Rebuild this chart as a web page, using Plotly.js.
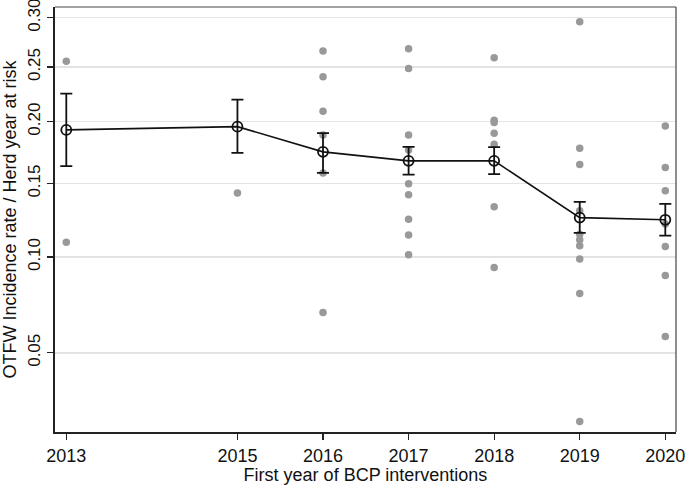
<!DOCTYPE html>
<html>
<head>
<meta charset="utf-8">
<script src="https://cdn.plot.ly/plotly-3.0.1.min.js"></script>
<style>html,body{margin:0;padding:0;background:#fff;}#chart{width:685px;height:485px;}</style>
</head>
<body>
<div id="chart"></div>
<script>
// Years (first year of BCP interventions)
const years = [2013, 2015, 2016, 2017, 2018, 2019, 2020];
// Mean incidence rate per year and 95% CI
const meanRate = [0.1929, 0.1957, 0.1747, 0.1675, 0.1675, 0.1256, 0.1241];
const ciUpper  = [0.2250, 0.2195, 0.1901, 0.1787, 0.1785, 0.1366, 0.1352];
const ciLower  = [0.1633, 0.1739, 0.1581, 0.1568, 0.1571, 0.1154, 0.1136];
// Individual herd incidence rates per year
const herds2013 = [0.2556, 0.1093];
const herds2015 = [0.1431];
const herds2016 = [0.2658, 0.2408, 0.2091, 0.1887, 0.1581, 0.0690];
const herds2017 = [0.2681, 0.2485, 0.1887, 0.1763, 0.1498, 0.1417, 0.1245, 0.1139, 0.1014];
const herds2018 = [0.2592, 0.2012, 0.1992, 0.1901, 0.1809, 0.1331, 0.0937];
const herds2019 = [0.2958, 0.1777, 0.1646, 0.1303, 0.1145, 0.1108, 0.1070, 0.0988, 0.0790, 0.0247];
const herds2020 = [0.1963, 0.1622, 0.1446, 0.1212, 0.1065, 0.0890, 0.0573];
// Axis ticks
const yTickValues = [0.05, 0.10, 0.15, 0.20, 0.25, 0.30];
const yTickLabels = ["0.05", "0.10", "0.15", "0.20", "0.25", "0.30"];
const xTickLabels = ["2013", "2015", "2016", "2017", "2018", "2019", "2020"];

// square-root scale
const s = v => Math.sqrt(v);
const herdGroups = [herds2013, herds2015, herds2016, herds2017, herds2018, herds2019, herds2020];
const hx = [], hy = [];
herdGroups.forEach((g, i) => g.forEach(v => { hx.push(years[i]); hy.push(s(v)); }));

const font = {family: "Liberation Sans, Arial, Helvetica, sans-serif", size: 18, color: "#111"};
const yTickFont = {family: "Liberation Sans, Arial, Helvetica, sans-serif", size: 17, color: "#111"};

const traces = [
  {
    x: hx, y: hy, type: "scatter", mode: "markers",
    marker: {color: "#999999", size: 7.5, line: {width: 0}},
    hoverinfo: "skip", showlegend: false, cliponaxis: false
  },
  {
    x: years, y: meanRate.map(s), type: "scatter", mode: "lines+markers",
    line: {color: "#111", width: 1.6},
    marker: {symbol: "circle-open", size: 10, color: "#111", line: {width: 1.8, color: "#111"}},
    error_y: {
      type: "data", symmetric: false,
      array: ciUpper.map((u, i) => s(u) - s(meanRate[i])),
      arrayminus: ciLower.map((l, i) => s(meanRate[i]) - s(l)),
      color: "#111", thickness: 1.8, width: 6
    },
    showlegend: false
  }
];

const layout = {
  width: 685, height: 485,
  margin: {l: 55, r: 9, t: 7, b: 53},
  paper_bgcolor: "#fff", plot_bgcolor: "#fff",
  font: font,
  showlegend: false,
  xaxis: {
    range: [2012.868, 2020.125],
    tickvals: years, ticktext: xTickLabels,
    ticks: "outside", ticklen: 6, tickwidth: 1.2, tickcolor: "#222",
    ticklabeloverflow: "allow",
    showgrid: false, zeroline: false,
    showline: true, linecolor: "#222", linewidth: 2,
    tickfont: font,
    title: {text: "First year of BCP interventions", font: font, standoff: 4}
  },
  yaxis: {
    range: [0.1470, 0.5581],
    tickvals: yTickValues.map(s), ticktext: yTickLabels,
    tickangle: -90,
    ticks: "outside", ticklen: 6, tickwidth: 1.2, tickcolor: "#222",
    ticklabeloverflow: "allow",
    showgrid: true, gridcolor: "#e3e3e3", gridwidth: 1.5,
    zeroline: false,
    showline: true, linecolor: "#222", linewidth: 2,
    tickfont: yTickFont,
    title: {text: "OTFW Incidence rate / Herd year at risk", font: font, standoff: 4}
  },
  shapes: [
    {type: "line", xref: "paper", yref: "paper", x0: 0, x1: 1, y0: 1, y1: 1, line: {color: "#444", width: 1.2}},
    {type: "line", xref: "paper", yref: "paper", x0: 1, x1: 1, y0: 0, y1: 1, line: {color: "#444", width: 1.2}}
  ]
};

Plotly.newPlot("chart", traces, layout, {displayModeBar: false, staticPlot: true});
</script>
</body>
</html>
